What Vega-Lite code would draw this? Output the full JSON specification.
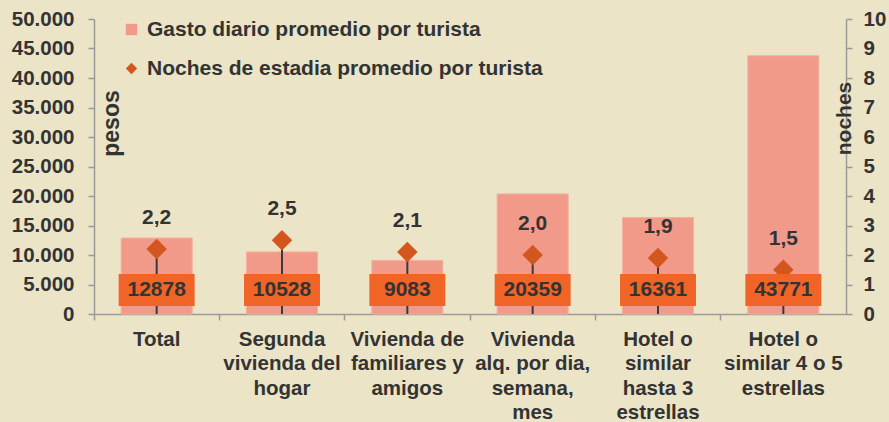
{
  "$schema": "https://vega.github.io/schema/vega-lite/v6.json",
  "width": 752,
  "height": 295,
  "autosize": {"type": "none"},
  "padding": {"left": 94, "top": 19, "right": 43, "bottom": 108},
  "background": "#ebe4c6",
  "title": {"text": "0%", "anchor": "end", "frame": "group", "fontSize": 21, "fontWeight": "bold", "color": "#333333", "font": "Liberation Sans", "offset": 12, "baseline": "alphabetic", "dx": 16, "dy": 10},
  "config": {
    "locale": {"number": {"decimal": ",", "thousands": ".", "grouping": [3], "currency": ["$", ""]}},
    "view": {"stroke": null},
    "font": "Liberation Sans",
    "axis": {"labelFont": "Liberation Sans", "labelFontSize": 20.5, "labelFontWeight": "bold", "labelColor": "#333333", "domainColor": "#9a9a9a", "tickColor": "#9a9a9a", "domainWidth": 1.5, "tickWidth": 1.5, "grid": false, "labelOverlap": false, "titleFont": "Liberation Sans", "titleFontSize": 21, "titleFontWeight": "bold", "titleColor": "#333333"}
  },
  "data": {"values": [
    {"cat": "Total", "gasto": 12878, "noches": 2.2},
    {"cat": "Segunda\nvivienda del\nhogar", "gasto": 10528, "noches": 2.5},
    {"cat": "Vivienda de\nfamiliares y\namigos", "gasto": 9083, "noches": 2.1},
    {"cat": "Vivienda\nalq. por dia,\nsemana,\nmes", "gasto": 20359, "noches": 2.0},
    {"cat": "Hotel o\nsimilar\nhasta 3\nestrellas", "gasto": 16361, "noches": 1.9},
    {"cat": "Hotel o\nsimilar 4 o 5\nestrellas", "gasto": 43771, "noches": 1.5}
  ]},
  "encoding": {
    "x": {"field": "cat", "type": "nominal", "sort": null,
      "scale": {"paddingInner": 0, "paddingOuter": 0},
      "axis": {"title": null, "labelAngle": 0, "bandPosition": 0, "tickSize": 6, "labelPadding": 9, "labelLineHeight": 24.5, "labelExpr": "split(datum.label, '\\n')", "labelBaseline": "top"}}
  },
  "layer": [
    {
      "mark": {"type": "bar", "color": "#f29a8a", "stroke": "#f5b09e", "strokeWidth": 1, "width": {"band": 0.567}},
      "encoding": {
        "y": {"field": "gasto", "type": "quantitative", "scale": {"domain": [0, 50000]},
          "axis": {"orient": "left", "title": "pesos", "titleFontSize": 23, "values": [0, 5000, 10000, 15000, 20000, 25000, 30000, 35000, 40000, 45000, 50000], "format": ",.0f", "tickSize": 6, "labelPadding": 14, "titleAngle": 270, "titleX": 17, "titleY": 104, "titleAlign": "center", "titleBaseline": "middle"}}
      }
    },
    {
      "mark": {"type": "rule", "color": "#3a3a3a", "strokeWidth": 2},
      "encoding": {
        "y": {"field": "noches", "type": "quantitative", "scale": {"domain": [0, 10]},
          "axis": {"orient": "right", "title": "noches", "values": [0, 1, 2, 3, 4, 5, 6, 7, 8, 9, 10], "format": "d", "tickSize": 6, "labelPadding": 11, "labelOverlap": false, "titleAngle": 270, "titleX": -2, "titleY": 99, "titleAlign": "center", "titleBaseline": "middle"}},
        "y2": {"datum": 0}
      }
    },
    {
      "mark": {"type": "point", "filled": true, "size": 420, "opacity": 1},
      "encoding": {
        "y": {"field": "noches", "type": "quantitative", "scale": {"domain": [0, 10]}, "axis": null},
        "color": {"datum": "Noches de estadia promedio por turista",
          "scale": {"domain": ["Gasto diario promedio por turista", "Noches de estadia promedio por turista"], "range": ["#f29a8a", "#d4561f"]},
          "legend": {"title": null, "orient": "none", "legendX": 27, "legendY": 0, "labelFontSize": 21, "labelFontWeight": "bold", "labelColor": "#333333", "labelFont": "Liberation Sans", "symbolSize": 130, "labelOffset": 5, "rowPadding": 17, "symbolStrokeWidth": 0, "labelLimit": 600}},
        "shape": {"datum": "Noches de estadia promedio por turista",
          "scale": {"domain": ["Gasto diario promedio por turista", "Noches de estadia promedio por turista"], "range": ["square", "diamond"]},
          "legend": {"title": null, "orient": "none", "legendX": 27, "legendY": 0, "labelFontSize": 21, "labelFontWeight": "bold", "labelColor": "#333333", "labelFont": "Liberation Sans", "symbolSize": 130, "labelOffset": 5, "rowPadding": 17, "symbolStrokeWidth": 0, "labelLimit": 600}}
      }
    },
    {
      "mark": {"type": "text", "fontSize": 21, "fontWeight": "bold", "color": "#333333", "baseline": "alphabetic", "dy": -25},
      "encoding": {
        "y": {"field": "noches", "type": "quantitative", "scale": {"domain": [0, 10]}, "axis": null},
        "text": {"field": "noches", "type": "quantitative", "format": ".1f"}
      }
    },
    {
      "mark": {"type": "bar", "color": "#f06428", "width": {"band": 0.606}},
      "encoding": {
        "y": {"datum": 0.271, "type": "quantitative", "scale": {"domain": [0, 10]}, "axis": null},
        "y2": {"datum": 1.356}
      }
    },
    {
      "mark": {"type": "text", "fontSize": 21, "fontWeight": "bold", "color": "#333333", "baseline": "middle"},
      "encoding": {
        "y": {"datum": 0.814, "type": "quantitative", "scale": {"domain": [0, 10]}, "axis": null},
        "text": {"field": "gasto", "type": "quantitative", "format": "d"}
      }
    }
  ],
  "resolve": {"scale": {"y": "independent"}}
}
